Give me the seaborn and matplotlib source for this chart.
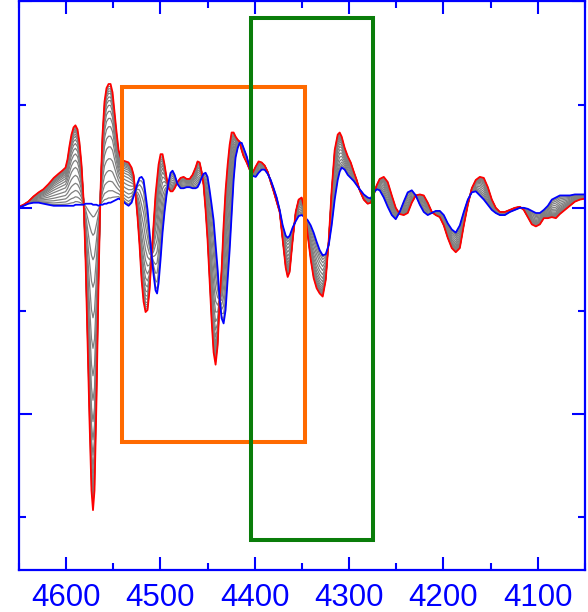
import numpy as np
import pandas as pd
import matplotlib
matplotlib.use("Agg")
import matplotlib.pyplot as plt
import seaborn as sns
from matplotlib.patches import Rectangle
from matplotlib.ticker import MultipleLocator

# ---- data ----
wavenumber = [4650, 4645, 4640, 4634.5, 4629, 4624, 4618.6, 4613, 4608, 4604,
              4600.5, 4598.4, 4596.3, 4594.2, 4592, 4590, 4587.8, 4585.7, 4583.6, 4581.4,
              4579.3, 4577.2, 4575.1, 4573, 4571.4, 4569.8, 4567.7, 4565.5, 4563.4, 4561.3,
              4559.2, 4557.1, 4554.9, 4552.8, 4550.7, 4548.6, 4546.4, 4544.3, 4542.2, 4540.1,
              4536.9, 4533.7, 4530.5, 4528.4, 4526.3, 4524.2, 4522.1, 4519.9, 4517.8, 4515.7,
              4513.6, 4511.5, 4509.3, 4507.2, 4505.1, 4503.5, 4501.9, 4499.8, 4497.7, 4495.6,
              4493.4, 4491.3, 4489.2, 4487.1, 4484.9, 4481.8, 4478.6, 4475.4, 4472.2, 4469,
              4465.9, 4462.7, 4460.6, 4458.4, 4456.3, 4454.2, 4452.1, 4450, 4447.8, 4445.7,
              4443.6, 4441.5, 4439.3, 4437.2, 4435.1, 4433, 4430.9, 4428.7, 4426.6, 4424.5,
              4422.4, 4420.3, 4418.1, 4416, 4413.9, 4411.8, 4408.6, 4405.4, 4402.2, 4399,
              4395.9, 4392.7, 4389.5, 4386.3, 4383.1, 4380, 4376.8, 4373.6, 4370.4, 4367.2,
              4365.1, 4363, 4359.8, 4356.6, 4353.5, 4350.3, 4347.1, 4343.9, 4340.7, 4337.6,
              4334.4, 4331.2, 4328, 4324.8, 4321.6, 4318.5, 4315.3, 4312.1, 4310, 4307.9,
              4304.7, 4301.5, 4298.3, 4295.1, 4292, 4288.8, 4284.5, 4280.3, 4277.1, 4273.9,
              4270.7, 4267.6, 4263.3, 4259.1, 4254.8, 4250.6, 4246.4, 4242.1, 4237.9, 4233.6,
              4229.4, 4225.1, 4220.9, 4216.7, 4212.4, 4208.2, 4203.9, 4199.7, 4195.5, 4191.2,
              4187, 4182.7, 4178.5, 4174.2, 4170, 4165.8, 4161.5, 4157.3, 4153, 4148.8,
              4144.6, 4140.3, 4135, 4129.7, 4124.4, 4119.1, 4114.9, 4110.6, 4106.4, 4102.1,
              4097.9, 4093.7, 4089.4, 4085.2, 4080.9, 4076.7, 4071.4, 4066.1, 4060.8, 4055.5,
              4050]

red_spectrum = [0.01, 0.03, 0.06, 0.11, 0.15, 0.18, 0.23, 0.29, 0.33, 0.36,
                0.39, 0.47, 0.60, 0.71, 0.78, 0.80, 0.76, 0.63, 0.42, 0.08,
                -0.50, -1.28, -2.06, -2.74, -2.93, -2.74, -1.86, -0.70, 0.17, 0.71,
                1.03, 1.16, 1.20, 1.20, 1.12, 0.93, 0.73, 0.56, 0.49, 0.46,
                0.45, 0.44, 0.39, 0.32, 0.13, -0.09, -0.36, -0.70, -0.91, -1.01,
                -0.99, -0.80, -0.46, -0.17, 0.13, 0.27, 0.42, 0.52, 0.52, 0.42,
                0.29, 0.19, 0.16, 0.16, 0.19, 0.25, 0.29, 0.30, 0.28, 0.28,
                0.32, 0.39, 0.45, 0.44, 0.35, 0.22, -0.02, -0.31, -0.70, -1.09,
                -1.40, -1.52, -1.33, -0.89, -0.60, -0.17, 0.17, 0.42, 0.61, 0.73,
                0.73, 0.69, 0.66, 0.64, 0.56, 0.50, 0.44, 0.37, 0.34, 0.40,
                0.45, 0.44, 0.41, 0.35, 0.25, 0.16, 0.06, -0.04, -0.31, -0.58,
                -0.67, -0.62, -0.31, -0.04, 0.08, 0.10, -0.02, -0.26, -0.50, -0.68,
                -0.78, -0.83, -0.86, -0.70, -0.31, 0.17, 0.56, 0.71, 0.73, 0.69,
                0.58, 0.50, 0.44, 0.35, 0.27, 0.17, 0.08, 0.04, 0.05, 0.13,
                0.22, 0.28, 0.30, 0.25, 0.12, 0.00, -0.06, -0.07, -0.05, 0.05,
                0.12, 0.13, 0.12, 0.05, -0.04, -0.07, -0.09, -0.17, -0.29, -0.39,
                -0.43, -0.39, -0.17, 0.03, 0.19, 0.27, 0.30, 0.29, 0.20, 0.08,
                0.00, -0.04, -0.04, -0.02, 0.00, 0.01, -0.02, -0.09, -0.16, -0.18,
                -0.16, -0.10, -0.10, -0.09, -0.10, -0.06, -0.02, 0.02, 0.06, 0.08,
                0.09]

blue_spectrum = [0.00, 0.02, 0.04, 0.05, 0.05, 0.04, 0.03, 0.02, 0.02, 0.02,
                 0.02, 0.02, 0.02, 0.02, 0.02, 0.03, 0.03, 0.03, 0.03, 0.03,
                 0.04, 0.04, 0.04, 0.04, 0.03, 0.03, 0.03, 0.02, 0.03, 0.03,
                 0.04, 0.04, 0.05, 0.05, 0.06, 0.07, 0.08, 0.09, 0.08, 0.07,
                 0.04, 0.02, 0.05, 0.11, 0.17, 0.24, 0.29, 0.30, 0.27, 0.13,
                 -0.02, -0.24, -0.46, -0.65, -0.80, -0.83, -0.73, -0.50, -0.24, -0.04,
                 0.13, 0.25, 0.34, 0.36, 0.32, 0.23, 0.19, 0.19, 0.20, 0.20,
                 0.19, 0.19, 0.20, 0.24, 0.29, 0.33, 0.34, 0.30, 0.17, 0.03,
                 -0.12, -0.36, -0.60, -0.89, -1.07, -1.12, -0.99, -0.70, -0.41, -0.07,
                 0.27, 0.49, 0.58, 0.63, 0.63, 0.58, 0.50, 0.39, 0.31, 0.30,
                 0.34, 0.37, 0.37, 0.33, 0.27, 0.19, 0.10, -0.02, -0.17, -0.27,
                 -0.29, -0.27, -0.19, -0.13, -0.08, -0.07, -0.09, -0.12, -0.17, -0.24,
                 -0.33, -0.41, -0.46, -0.45, -0.36, -0.17, 0.08, 0.27, 0.35, 0.39,
                 0.37, 0.32, 0.29, 0.26, 0.22, 0.18, 0.13, 0.10, 0.09, 0.15,
                 0.18, 0.17, 0.10, 0.01, -0.07, -0.11, -0.04, 0.06, 0.15, 0.17,
                 0.12, 0.03, -0.04, -0.07, -0.05, -0.03, -0.03, -0.07, -0.15, -0.21,
                 -0.24, -0.17, -0.04, 0.08, 0.15, 0.16, 0.12, 0.08, 0.03, -0.02,
                 -0.05, -0.07, -0.07, -0.04, -0.02, 0.00, 0.00, -0.01, -0.03, -0.05,
                 -0.05, -0.02, 0.02, 0.08, 0.10, 0.12, 0.12, 0.12, 0.13, 0.13,
                 0.13]

# fraction of the way from the blue to the red trace for each grey trace
gray_fractions = [0.04, 0.10, 0.18, 0.27, 0.37, 0.47, 0.56, 0.64, 0.71,
                  0.77, 0.82, 0.86, 0.89, 0.92, 0.94, 0.96, 0.98]

x_ticks = [4600, 4500, 4400, 4300, 4200, 4100]
x_limits = (4650, 4050)
y_limits = (-3.51, 2.0)

# highlighted regions: (wavenumber start, wavenumber end, low, high)
orange_box = (4540.4, 4347.1, -2.27, 1.175)
green_box = (4403.8, 4275.2, -3.22, 1.84)

# ---- build tables ----
red = np.array(red_spectrum)
blue = np.array(blue_spectrum)
frames = []
for f in gray_fractions:
    frames.append(pd.DataFrame({"wavenumber": wavenumber,
                                "signal": blue + f * (red - blue),
                                "trace": f"{f:.2f}"}))
gray_df = pd.concat(frames, ignore_index=True)
red_df = pd.DataFrame({"wavenumber": wavenumber, "signal": red_spectrum})
blue_df = pd.DataFrame({"wavenumber": wavenumber, "signal": blue_spectrum})

# ---- style ----
sns.set_theme(style="white")
plt.rcParams['font.family'] = ['Liberation Sans', 'DejaVu Sans']
AX_BLUE = "#0000ff"

fig = plt.figure(figsize=(5.88, 6.12), dpi=100)
ax = fig.add_axes([0.032, 0.0686, 0.963, 0.929])

sns.lineplot(data=gray_df, x="wavenumber", y="signal", units="trace",
             estimator=None, sort=False, color="#808080", linewidth=0.9,
             ax=ax, legend=False)
sns.lineplot(data=red_df, x="wavenumber", y="signal", sort=False,
             color="#ff0000", linewidth=1.3, ax=ax, legend=False)
sns.lineplot(data=blue_df, x="wavenumber", y="signal", sort=False,
             color=AX_BLUE, linewidth=1.3, ax=ax, legend=False)

for box, col in ((orange_box, "#ff6a00"), (green_box, "#0a7d0a")):
    x0, x1, y0, y1 = box
    ax.add_patch(Rectangle((x0, y0), x1 - x0, y1 - y0, fill=False,
                           edgecolor=col, linewidth=2.9, zorder=5))

ax.set_xlim(*x_limits)
ax.set_ylim(*y_limits)
ax.set_xticks(x_ticks)
ax.set_xticklabels([str(t) for t in x_ticks])
ax.xaxis.set_minor_locator(MultipleLocator(50))
ax.yaxis.set_major_locator(MultipleLocator(2))
ax.yaxis.set_minor_locator(MultipleLocator(1))
ax.set_xlabel("")
ax.set_ylabel("")

for s in ax.spines.values():
    s.set_visible(True)
    s.set_color(AX_BLUE)
    s.set_linewidth(1.6)

ax.tick_params(which="both", direction="in", top=True, right=True,
               bottom=True, left=True, color=AX_BLUE, width=1.5,
               labelcolor=AX_BLUE, labelleft=False)
ax.tick_params(which="major", length=9.5)
ax.tick_params(which="minor", length=5)
ax.tick_params(axis="x", which="major", labelsize=22.5, pad=9)

fig.savefig("out.png", dpi=100)
